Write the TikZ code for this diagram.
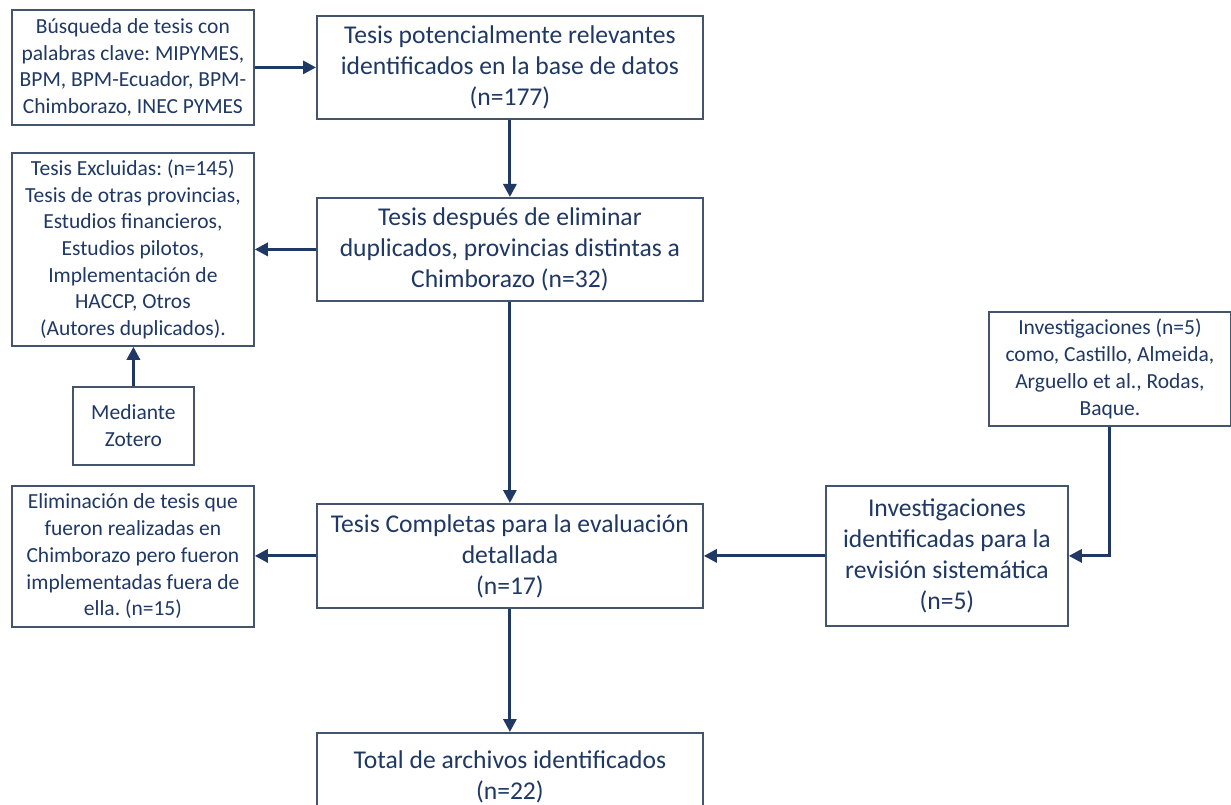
\documentclass[tikz,border=0pt]{standalone}
\usepackage{fontspec}
\setmainfont{Carlito}
\usetikzlibrary{arrows.meta,calc}
\definecolor{txt}{HTML}{1F3864}
\definecolor{bord}{HTML}{44546A}
\definecolor{arr}{HTML}{1F3864}
\frenchspacing
\begin{document}
\begin{tikzpicture}[x=1pt,y=-1pt,
 box/.style={draw=bord,line width=1.8pt,fill=white,text=txt,align=center,inner sep=0pt,anchor=north west},
 small/.style={font=\fontsize{21.5}{26.7}\selectfont},
 big/.style={font=\fontsize{25.6}{31}\selectfont},
 link/.style={draw=arr,line width=3pt,-{Triangle[length=13pt,width=13pt]}}]
\useasboundingbox (0,0) rectangle (1231,805);
\fill[white] (0,0) rectangle (1231,805);
\clip (0,0) rectangle (1231,805);

\node[box,small,minimum width=242pt,minimum height=115pt] (b) at (11,9)
 {Búsqueda de tesis con\\palabras clave: MIPYMES,\\BPM, BPM-Ecuador, BPM-\\Chimborazo, INEC PYMES};
\node[box,big,minimum width=386pt,minimum height=103pt] (p) at (316,15)
 {Tesis potencialmente relevantes\\identificados en la base de datos\\(n=177)};
\node[box,small,minimum width=242pt,minimum height=193pt] (ex) at (11,152)
 {Tesis Excluidas: (n=145)\\Tesis de otras provincias,\\Estudios financieros,\\Estudios pilotos,\\Implementación de\\HACCP, Otros\\(Autores duplicados).};
\node[box,big,minimum width=386pt,minimum height=103pt] (d) at (316,197)
 {Tesis después de eliminar\\duplicados, provincias distintas a\\Chimborazo (n=32)};
\node[box,small,minimum width=121pt,minimum height=78pt] (z) at (72,386)
 {Mediante\\Zotero};
\node[box,small,minimum width=242pt,minimum height=114pt] (i5) at (988,311)
 {Investigaciones (n=5)\\como, Castillo, Almeida,\\Arguello et al., Rodas,\\Baque.};
\node[box,big,minimum width=242pt,minimum height=140pt] (ii) at (825,485)
 {Investigaciones\\identificadas para la\\revisión sistemática\\(n=5)};
\node[box,small,minimum width=242pt,minimum height=141pt] (el) at (11,485)
 {Eliminación de tesis que\\fueron realizadas en\\Chimborazo pero fueron\\implementadas fuera de\\ella. (n=15)};
\node[box,big,minimum width=386pt,minimum height=104pt] (c) at (316,503)
 {Tesis Completas para la evaluación\\detallada\\(n=17)};
\node[box,big,minimum width=386pt,minimum height=87pt] (t) at (316,732)
 {Total de archivos identificados\\(n=22)};

\draw[link] (b.east) -- (b.east -| p.west);
\draw[link] (p.south) -- (d.north);
\draw[link] (d.west) -- (d.west -| ex.east);
\draw[link] (z.north) -- (z.north |- ex.south);
\draw[link] (d.south) -- (c.north);
\draw[link] (c.west) -- (c.west -| el.east);
\draw[link] (i5.south) |- (ii.east);
\draw[link] (ii.west) -- (ii.west -| c.east);
\draw[link] (c.south) -- (t.north);
\end{tikzpicture}
\end{document}
